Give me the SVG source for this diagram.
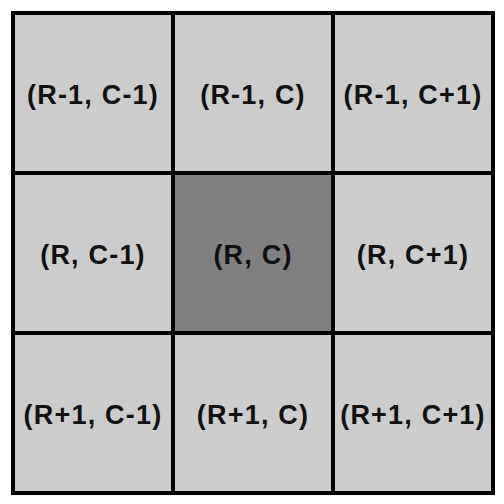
<svg xmlns="http://www.w3.org/2000/svg" width="504" height="504" viewBox="0 0 504 504">
<style>
.cell{fill:#cccccc;stroke:#000;stroke-width:4}
.center{fill:#808080}
.lbl{font-family:"Liberation Sans",Arial,sans-serif;font-weight:bold;font-size:27px;letter-spacing:1.2px;fill:#111;text-anchor:middle}
</style>
<rect width="504" height="504" fill="#fff"/>
<g id="n00"><rect class="cell" x="13" y="13" width="160" height="160"/><text class="lbl" x="93" y="103.5">(R-1, C-1)</text></g>
<g id="n01"><rect class="cell" x="173" y="13" width="160" height="160"/><text class="lbl" x="253" y="103.5">(R-1, C)</text></g>
<g id="n02"><rect class="cell" x="333" y="13" width="160" height="160"/><text class="lbl" x="413" y="103.5">(R-1, C+1)</text></g>
<g id="n10"><rect class="cell" x="13" y="173" width="160" height="160"/><text class="lbl" x="93" y="263.5">(R, C-1)</text></g>
<g id="n11"><rect class="cell center" x="173" y="173" width="160" height="160"/><text class="lbl" x="253" y="263.5">(R, C)</text></g>
<g id="n12"><rect class="cell" x="333" y="173" width="160" height="160"/><text class="lbl" x="413" y="263.5">(R, C+1)</text></g>
<g id="n20"><rect class="cell" x="13" y="333" width="160" height="160"/><text class="lbl" x="93" y="424">(R+1, C-1)</text></g>
<g id="n21"><rect class="cell" x="173" y="333" width="160" height="160"/><text class="lbl" x="253" y="424">(R+1, C)</text></g>
<g id="n22"><rect class="cell" x="333" y="333" width="160" height="160"/><text class="lbl" x="413" y="424">(R+1, C+1)</text></g>
<g id="connectors"/>
</svg>
